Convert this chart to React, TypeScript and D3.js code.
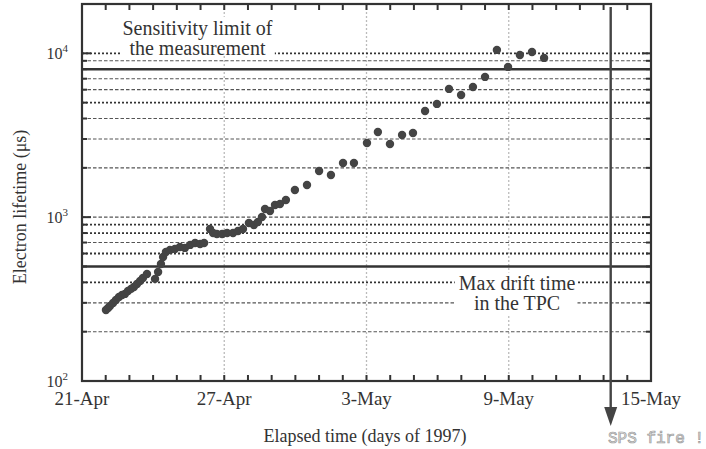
import React, { useLayoutEffect, useRef, useState } from "react";
import * as d3 from "d3";

// ---- data ----
const tickDays = [0, 6, 12, 18, 24];
const tickLabels = ["21-Apr", "27-Apr", "3-May", "9-May", "15-May"];
const decadeValues = [100, 1000, 10000];
const decadeExponents = ["2", "3", "4"];
const gridValues = [200, 300, 400, 500, 600, 700, 800, 900, 1000, 2000, 3000, 4000, 5000, 6000, 7000, 8000, 9000, 10000];
const dottedValues = [400, 600, 800, 900, 5000, 10000];
const limitValues = [500, 8000];
const spsFireDay = 22.3;

// elapsed days since 21-Apr-1997
const days = [
  1.01, 1.10, 1.18, 1.31, 1.43, 1.56, 1.69, 1.81, 1.94, 2.07, 2.19, 2.32, 2.45, 2.57, 2.74,
  3.08, 3.21, 3.33, 3.42, 3.54, 3.71, 3.92, 4.13, 4.34, 4.56, 4.77, 4.98, 5.15,
  5.40, 5.53, 5.69, 5.91, 6.12, 6.37, 6.58, 6.79, 7.04, 7.25, 7.42, 7.59, 7.72, 7.93, 8.14, 8.35, 8.60,
  8.98, 9.49, 10.00, 10.50, 11.01, 11.47, 12.02, 12.48, 12.99, 13.50, 13.96, 14.47, 14.97, 15.48,
  15.99, 16.49, 17.00, 17.50, 17.97, 18.47, 18.98, 19.49,
];
// electron lifetime (µs)
const lifetimes = [
  271, 279, 287, 299, 312, 326, 335, 340, 354, 365, 375, 391, 408, 425, 450,
  420, 463, 518, 571, 613, 631, 640, 658, 649, 677, 696, 686, 696,
  847, 801, 789, 789, 801, 801, 824, 847, 922, 896, 935, 1003, 1122, 1091, 1187, 1204, 1274,
  1466, 1573, 1914, 1809, 2142, 2142, 2838, 3313, 2798, 3176, 3266, 4450, 4911, 6064,
  5572, 6235, 7178, 10490, 8260, 9777, 10198, 9374,
];

const W = 706;
const H = 449;
const plot = { left: 82, right: 651, top: 4, bottom: 381 };
const serif = "'Liberation Serif', 'Times New Roman', serif";
const ink = "#333";

export default function App() {
  const x = d3.scaleLinear().domain([0, 24]).range([plot.left, plot.right]);
  const y = d3.scaleLog().domain([100, 20000]).range([plot.bottom, plot.top]);
  const dayTicks = d3.range(0, 25);

  const sensRef = useRef<SVGTextElement>(null);
  const driftRef = useRef<SVGTextElement>(null);
  const [boxes, setBoxes] = useState<any[]>([]);
  useLayoutEffect(() => {
    const b = [sensRef.current, driftRef.current].map((el) => (el ? el.getBBox() : null));
    setBoxes(b);
  }, []);

  const sensX = x(4.87);
  const driftX = x(18.35);

  return (
    <svg width={W} height={H} style={{ position: "absolute", left: 0, top: 0, background: "#fff" }}>
      {/* vertical grid */}
      {tickDays.slice(1, -1).map((d) => (
        <line key={"vg" + d} x1={x(d)} x2={x(d)} y1={plot.top} y2={plot.bottom} stroke="#bbb" strokeWidth={1.3} strokeDasharray="2 2" />
      ))}
      {/* horizontal grid */}
      {gridValues.map((v) => {
        const limit = limitValues.includes(v);
        const dotted = dottedValues.includes(v);
        return (
          <line
            key={"hg" + v}
            x1={plot.left}
            x2={plot.right}
            y1={y(v)}
            y2={y(v)}
            stroke={limit ? ink : dotted ? "#333" : "#555"}
            strokeWidth={limit ? 2.6 : dotted ? 1.8 : 1.1}
            strokeDasharray={limit ? undefined : dotted ? "2 2" : "3.5 2"}
          />
        );
      })}
      {/* label backgrounds */}
      {boxes[0] && (
        <rect x={boxes[0].x - 2} y={boxes[0].y} width={boxes[0].width + 4} height={boxes[0].height - 3} fill="#fff" />
      )}
      {boxes[1] && (
        <rect x={boxes[1].x - 4} y={boxes[1].y} width={boxes[1].width + 6} height={boxes[1].height} fill="#fff" />
      )}
      <text ref={sensRef} x={sensX} y={y(10000) + 1.5} textAnchor="middle" fontFamily={serif} fontSize={20} fill={ink}>
        <tspan x={sensX} dy={-20}>Sensitivity limit of</tspan>
        <tspan x={sensX} dy={20}>the measurement</tspan>
      </text>
      <text ref={driftRef} x={driftX} y={y(500) + 24} textAnchor="middle" fontFamily={serif} fontSize={20} fill={ink}>
        <tspan x={driftX} dy={0}>Max drift time</tspan>
        <tspan x={driftX} dy={20}>in the TPC</tspan>
      </text>
      {/* data */}
      {days.map((d, i) => (
        <circle key={"p" + i} cx={x(d)} cy={y(lifetimes[i])} r={4.2} fill="#444" />
      ))}
      {/* frame */}
      <rect x={plot.left} y={plot.top} width={plot.right - plot.left} height={plot.bottom - plot.top} fill="none" stroke={ink} strokeWidth={2.2} />
      {/* x ticks top and bottom */}
      {dayTicks.map((d) => (
        <g key={"xt" + d} stroke={ink} strokeWidth={2}>
          <line x1={x(d)} x2={x(d)} y1={plot.bottom} y2={plot.bottom - 6} />
          <line x1={x(d)} x2={x(d)} y1={plot.top} y2={plot.top + 6} />
        </g>
      ))}
      {/* y ticks left and right */}
      {gridValues.concat([100]).map((v) => {
        const len = decadeValues.includes(v) ? 9 : 5;
        return (
          <g key={"yt" + v} stroke={ink} strokeWidth={2}>
            <line x1={plot.left} x2={plot.left + len} y1={y(v)} y2={y(v)} />
            <line x1={plot.right} x2={plot.right - len} y1={y(v)} y2={y(v)} />
          </g>
        );
      })}
      {/* x tick labels */}
      {tickDays.map((d, i) => (
        <text key={"xl" + d} x={x(d)} y={plot.bottom + 24} textAnchor="middle" fontFamily={serif} fontSize={19} fill={ink}>
          {tickLabels[i]}
        </text>
      ))}
      {/* y tick labels */}
      {decadeValues.map((v, i) => (
        <text key={"yl" + v} x={68} y={y(v) + 6} textAnchor="end" fontFamily={serif} fontSize={16} fill={ink}>
          10<tspan dy={-7} fontSize={11}>{decadeExponents[i]}</tspan>
        </text>
      ))}
      {/* axis titles */}
      <text x={365} y={442} textAnchor="middle" fontFamily={serif} fontSize={18} fill={ink}>
        Elapsed time (days of 1997)
      </text>
      <text transform={`translate(26,${207}) rotate(-90)`} textAnchor="middle" fontFamily={serif} fontSize={18} fill={ink}>
        Electron lifetime (μs)
      </text>
      {/* SPS fire marker */}
      <line x1={x(spsFireDay)} x2={x(spsFireDay)} y1={plot.top + 3} y2={409} stroke="#444" strokeWidth={2.4} />
      <path d={`M${x(spsFireDay) - 6.5},407 L${x(spsFireDay) + 6.5},407 L${x(spsFireDay)},426 Z`} fill="#444" />
      <text x={608} y={443} fontFamily="'Liberation Mono', monospace" fontSize={16} fill="#e4e4e4" stroke="#9a9a9a" strokeWidth={0.7}>
        SPS fire !
      </text>
    </svg>
  );
}
